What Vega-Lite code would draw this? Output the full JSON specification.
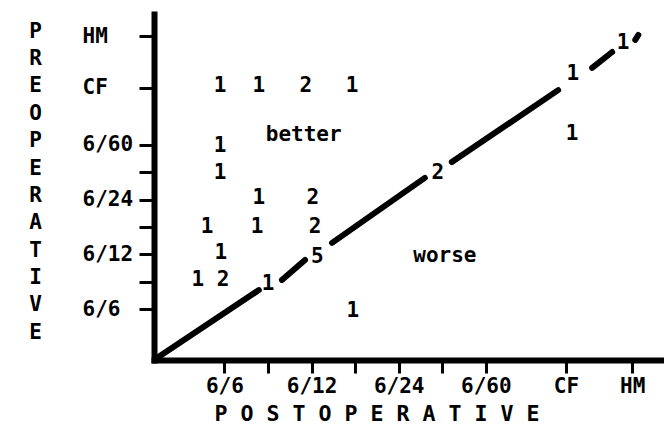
{
  "$schema": "https://vega.github.io/schema/vega-lite/v6.json",
  "width": 507,
  "height": 346,
  "autosize": {"type": "none"},
  "padding": {"left": 154, "top": 14, "right": 3, "bottom": 66},
  "background": "white",
  "config": {"view": {"stroke": null}, "font": "DejaVu Sans Mono"},
  "encoding": {
    "x": {
      "field": "x",
      "type": "quantitative",
      "scale": {"domain": [-0.616, 11.021], "nice": false, "zero": false},
      "axis": {
        "values": [1, 2, 3, 4, 5, 6, 7, 8.84, 10.36],
        "labelExpr": "datum.value == 1 ? '6/6' : datum.value == 3 ? '6/12' : datum.value == 5 ? '6/24' : datum.value == 7 ? '6/60' : (datum.value > 8 && datum.value < 9.5) ? 'CF' : datum.value > 10 ? 'HM' : ''",
        "grid": false,
        "domainWidth": 6,
        "domainColor": "black",
        "domainCap": "square",
        "tickColor": "black",
        "tickWidth": 3,
        "tickSize": 13,
        "labelFont": "DejaVu Sans Mono",
        "labelFontWeight": "bold",
        "labelFontSize": 21,
        "labelColor": "black",
        "labelPadding": 2,
        "labelFlush": false,
        "labelOverlap": false,
        "title": "P O S T O P E R A T I V E",
        "titleFont": "DejaVu Sans Mono",
        "titleFontWeight": "bold",
        "titleFontSize": 21.6,
        "titleColor": "black",
        "titleAlign": "center",
        "titleBaseline": "alphabetic",
        "titleX": 222.5,
        "titleY": 60
      }
    },
    "y": {
      "field": "y",
      "type": "quantitative",
      "scale": {"domain": [-0.849, 11.765], "nice": false, "zero": false},
      "axis": {
        "values": [1, 2, 3, 4, 5, 6, 7, 9.07, 10.96],
        "labelExpr": "datum.value == 1 ? '6/6' : datum.value == 3 ? '6/12' : datum.value == 5 ? '6/24' : datum.value == 7 ? '6/60' : (datum.value > 8 && datum.value < 10) ? 'CF' : datum.value > 10 ? 'HM' : ''",
        "grid": false,
        "domainWidth": 6,
        "domainColor": "black",
        "domainCap": "square",
        "tickColor": "black",
        "tickWidth": 3,
        "tickSize": 15,
        "labelFont": "DejaVu Sans Mono",
        "labelFontWeight": "bold",
        "labelFontSize": 21,
        "labelColor": "black",
        "labelAlign": "left",
        "labelBaseline": "middle",
        "labelPadding": 57,
        "labelFlush": false,
        "labelOverlap": false,
        "title": ["P", "R", "E", "O", "P", "E", "R", "A", "T", "I", "V", "E"],
        "titleFont": "DejaVu Sans Mono",
        "titleFontWeight": "bold",
        "titleFontSize": 21,
        "titleColor": "black",
        "titleAngle": 0,
        "titleAlign": "center",
        "titleBaseline": "alphabetic",
        "titleLineHeight": 27.4,
        "titleX": -119,
        "titleY": 23
      }
    }
  },
  "layer": [
    {
      "data": {
        "values": [
          {"x": -0.55, "y": -0.78, "x2": 1.79, "y2": 1.70},
          {"x": 2.32, "y": 2.07, "x2": 2.85, "y2": 2.80},
          {"x": 3.47, "y": 3.42, "x2": 5.60, "y2": 5.79},
          {"x": 6.22, "y": 6.37, "x2": 8.66, "y2": 8.99},
          {"x": 9.44, "y": 9.80, "x2": 9.90, "y2": 10.38},
          {"x": 10.43, "y": 10.82, "x2": 10.50, "y2": 11.0}
        ]
      },
      "mark": {"type": "rule", "color": "black", "strokeWidth": 6, "strokeCap": "round"},
      "encoding": {
        "x2": {"field": "x2"},
        "y2": {"field": "y2"}
      }
    },
    {
      "data": {
        "values": [
          {"x": 0.90, "y": 9.13, "label": "1"},
          {"x": 1.79, "y": 9.13, "label": "1"},
          {"x": 2.87, "y": 9.13, "label": "2"},
          {"x": 3.93, "y": 9.13, "label": "1"},
          {"x": 0.90, "y": 6.94, "label": "1"},
          {"x": 0.90, "y": 5.96, "label": "1"},
          {"x": 1.79, "y": 5.04, "label": "1"},
          {"x": 3.03, "y": 5.04, "label": "2"},
          {"x": 0.60, "y": 3.99, "label": "1"},
          {"x": 1.75, "y": 3.99, "label": "1"},
          {"x": 3.08, "y": 3.99, "label": "2"},
          {"x": 0.92, "y": 3.04, "label": "1"},
          {"x": 0.39, "y": 2.05, "label": "1"},
          {"x": 0.97, "y": 2.05, "label": "2"},
          {"x": 2.00, "y": 1.91, "label": "1"},
          {"x": 3.13, "y": 2.89, "label": "5"},
          {"x": 5.90, "y": 5.96, "label": "2"},
          {"x": 9.00, "y": 9.56, "label": "1"},
          {"x": 10.15, "y": 10.69, "label": "1"},
          {"x": 8.98, "y": 7.38, "label": "1"},
          {"x": 3.95, "y": 0.92, "label": "1"},
          {"x": 2.82, "y": 7.36, "label": "better"},
          {"x": 6.06, "y": 2.95, "label": "worse"}
        ]
      },
      "mark": {"type": "text", "font": "DejaVu Sans Mono", "fontWeight": "bold", "fontSize": 21, "color": "black", "align": "center", "baseline": "middle"},
      "encoding": {
        "text": {"field": "label"}
      }
    }
  ]
}
